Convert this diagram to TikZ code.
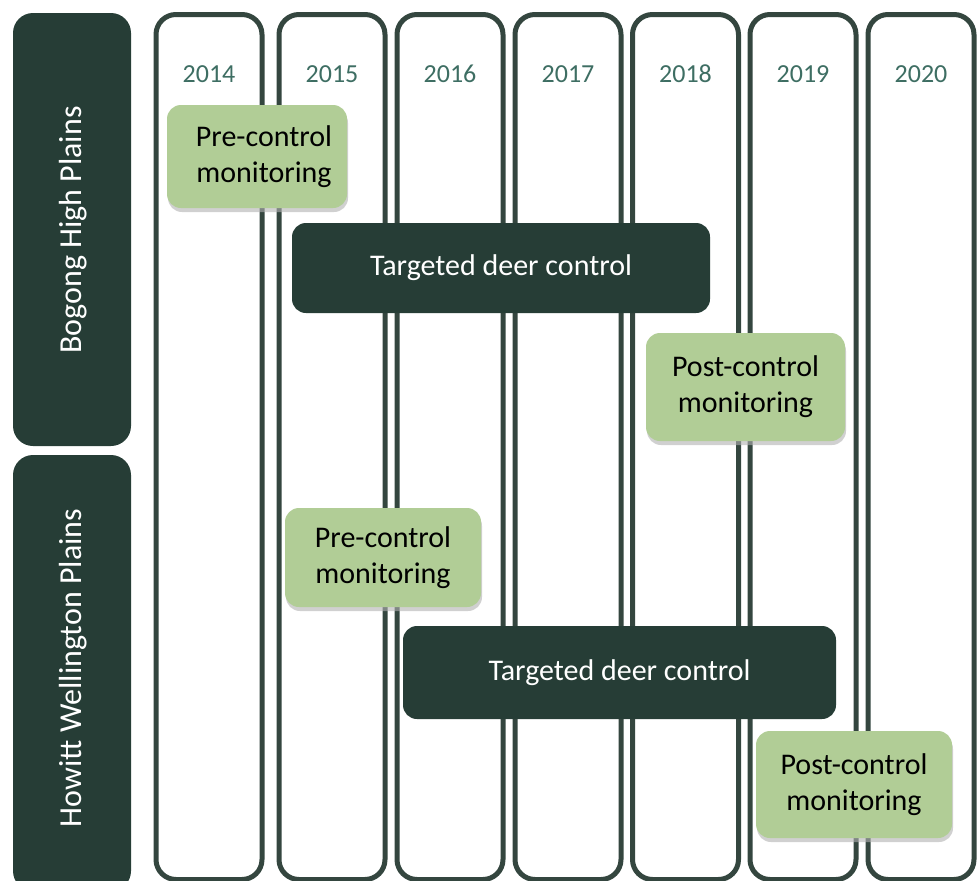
\documentclass[tikz,border=0pt]{standalone}
\usepackage{fontspec}
\setmainfont{Carlito}
\usetikzlibrary{shadows}
\definecolor{darkbox}{HTML}{263D36}
\definecolor{greenbox}{HTML}{B1CD96}
\definecolor{colline}{HTML}{34463F}
\definecolor{yeartext}{HTML}{3E6E63}
\tikzset{
  yearcol/.style={draw=colline, line width=5pt, rounded corners=20pt, fill=white,
    minimum width=106pt, minimum height=865pt, inner sep=0pt},
  yearlbl/.style={text=yeartext, font=\fontsize{26}{30}\selectfont},
  sidebox/.style={fill=darkbox, rounded corners=20pt, inner sep=0pt, minimum width=118pt},
  sidelbl/.style={text=white, rotate=90, font=\fontsize{32}{36}\selectfont},
  phase/.style={fill=greenbox, rounded corners=14pt, align=center, inner sep=0pt,
    font=\fontsize{30}{36}\selectfont, text=black,
    drop shadow={shadow xshift=1pt, shadow yshift=-4pt, fill=gray!60, opacity=0.6}},
  control/.style={fill=darkbox, rounded corners=14pt, inner sep=0pt,
    font=\fontsize{30}{36}\selectfont, text=white}
}
\begin{document}
\begin{tikzpicture}[x=1pt,y=-1pt]
\useasboundingbox (0,0) rectangle (978,881);
% side panels
\node[sidebox, minimum height=433pt] (bhp) at (72,229.5) {};
\node[sidebox, minimum height=436pt] (hwp) at (72,673) {};
\node[sidelbl] (bhpl) at (73,230) {Bogong High Plains};
\node[sidelbl] (hwpl) at (73,668) {Howitt Wellington Plains};
% year columns
\foreach \n/\x in {2014/209,2015/332,2016/450,2017/568,2018/685.5,2019/803,2020/921}{
  \node[yearcol] (c\n) at (\x,447) {};
  \node[yearlbl] (y\n) at (\x,74) {\n};
}
% Bogong High Plains bars
\node[phase, minimum width=180pt, minimum height=103pt, align=center] (pre1) at (257,156.5) {\hspace*{14pt}Pre-control\\\hspace*{14pt}monitoring};
\node[control, minimum width=418pt, minimum height=90pt] (tdc1) at (501,268) {\raisebox{-4pt}{Targeted deer control}};
\node[phase, minimum width=199pt, minimum height=108pt] (post1) at (745.5,387) {Post-control\\monitoring};
% Howitt Wellington Plains bars
\node[phase, minimum width=196pt, minimum height=99pt] (pre2) at (383,557.5) {Pre-control\\monitoring};
\node[control, minimum width=433pt, minimum height=93pt] (tdc2) at (619.5,672.5) {Targeted deer control};
\node[phase, minimum width=196pt, minimum height=107pt] (post2) at (854,784.5) {Post-control\\monitoring};
\end{tikzpicture}
\end{document}
